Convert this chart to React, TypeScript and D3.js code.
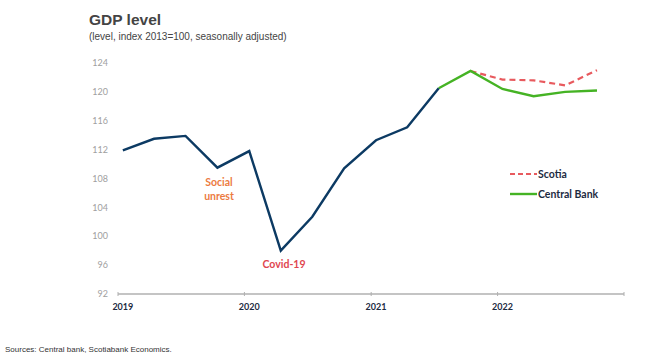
import * as d3 from "d3";

// quarterly observations (mid-month of the first month of each quarter)
const quarters = [
  "2019-01-15", "2019-04-15", "2019-07-15", "2019-10-15",
  "2020-01-15", "2020-04-15", "2020-07-15", "2020-10-15",
  "2021-01-15", "2021-04-15", "2021-07-15", "2021-10-15",
  "2022-01-15", "2022-04-15", "2022-07-15", "2022-10-15",
];
const historical = [111.9, 113.5, 113.9, 109.5, 111.8, 98.0, 102.7, 109.4, 113.3, 115.1, 120.5];
const centralBank = [120.5, 122.9, 120.4, 119.4, 120.0, 120.2];
const scotia = [122.9, 121.7, 121.6, 120.9, 123.0];
const yTicks = [92, 96, 100, 104, 108, 112, 116, 120, 124];
const yearTicks = ["2019-01-01", "2020-01-01", "2021-01-01", "2022-01-01", "2023-01-01"];
const yearLabels = ["2019", "2020", "2021", "2022"];

const W = 661;
const H = 358;

export default function App() {
  const parse = d3.timeParse("%Y-%m-%d");
  const dates = quarters.map((q) => parse(q) as Date);

  const x = d3
    .scaleTime()
    .domain([parse("2019-01-01") as Date, parse("2023-01-01") as Date])
    .range([118, 624]);
  const y = d3.scaleLinear().domain([92, 124]).range([294, 63]);

  const line = d3
    .line<[Date, number]>()
    .x((d) => x(d[0]))
    .y((d) => y(d[1]));

  const histPts = historical.map((v, i) => [dates[i], v] as [Date, number]);
  const cbPts = centralBank.map((v, i) => [dates[i + 10], v] as [Date, number]);
  const scPts = scotia.map((v, i) => [dates[i + 11], v] as [Date, number]);

  const navy = "#0c3a63";
  const green = "#45b324";
  const red = "#e85a5e";
  const labelFont = "Lato, 'Noto Sans', sans-serif";

  return (
    <svg
      width={W}
      height={H}
      style={{ position: "absolute", left: 0, top: 0, background: "#fff" }}
    >
      <text x={89} y={25} fontFamily="'Liberation Sans', Arial, sans-serif" fontSize={15.5} fontWeight="bold" fill="#444">
        GDP level
      </text>
      <text x={89} y={40} fontFamily="'Liberation Sans', Arial, sans-serif" fontSize={10} fill="#444">
        (level, index 2013=100, seasonally adjusted)
      </text>

      {/* y axis labels */}
      {yTicks.map((t) => (
        <text
          key={t}
          x={108}
          y={y(t)}
          dy="0.35em"
          textAnchor="end"
          fontFamily={labelFont}
          fontSize={9}
          fill="#a0a0a0"
        >
          {t}
        </text>
      ))}

      {/* x axis */}
      <line x1={x(parse(yearTicks[0]) as Date)} x2={x(parse(yearTicks[4]) as Date)} y1={y(92)} y2={y(92)} stroke="#b0b0b0" strokeWidth={1.5} />
      {yearTicks.map((t) => (
        <line key={t} x1={x(parse(t) as Date)} x2={x(parse(t) as Date)} y1={y(92) - 2} y2={y(92) + 2} stroke="#b0b0b0" strokeWidth={1} />
      ))}
      {yearLabels.map((l, i) => (
        <text
          key={l}
          x={x(dates[i * 4])}
          y={310}
          textAnchor="middle"
          fontFamily={labelFont}
          fontSize={9}
          fontWeight="bold"
          fill="#1d2b3f"
        >
          {l}
        </text>
      ))}

      {/* series */}
      <path d={line(scPts) ?? ""} fill="none" stroke={red} strokeWidth={2.2} strokeDasharray="6,4" />
      <path d={line(cbPts) ?? ""} fill="none" stroke={green} strokeWidth={2.4} />
      <path d={line(histPts) ?? ""} fill="none" stroke={navy} strokeWidth={2.4} />

      {/* annotations */}
      <text x={219} y={186} textAnchor="middle" fontFamily={labelFont} fontSize={10.5} fontWeight="bold" fill="#ec7b3f">
        Social
      </text>
      <text x={219} y={200} textAnchor="middle" fontFamily={labelFont} fontSize={10.5} fontWeight="bold" fill="#ec7b3f">
        unrest
      </text>
      <text x={284} y={268} textAnchor="middle" fontFamily={labelFont} fontSize={10.5} fontWeight="bold" fill="#e0464f">
        Covid-19
      </text>

      {/* legend */}
      <line x1={510} x2={537} y1={174} y2={174} stroke={red} strokeWidth={2.2} strokeDasharray="5,3" />
      <text x={538} y={174} dy="0.35em" fontFamily={labelFont} fontSize={10.5} fontWeight="bold" fill="#1d2b3f">
        Scotia
      </text>
      <line x1={510} x2={537} y1={194} y2={194} stroke={green} strokeWidth={2.4} />
      <text x={538} y={194} dy="0.35em" fontFamily={labelFont} fontSize={10.5} fontWeight="bold" fill="#1d2b3f">
        Central Bank
      </text>

      <text x={5} y={352} fontFamily="'Liberation Sans Narrow', 'Liberation Sans', sans-serif" fontSize={8} fill="#333">
        Sources: Central bank, Scotiabank Economics.
      </text>
    </svg>
  );
}
